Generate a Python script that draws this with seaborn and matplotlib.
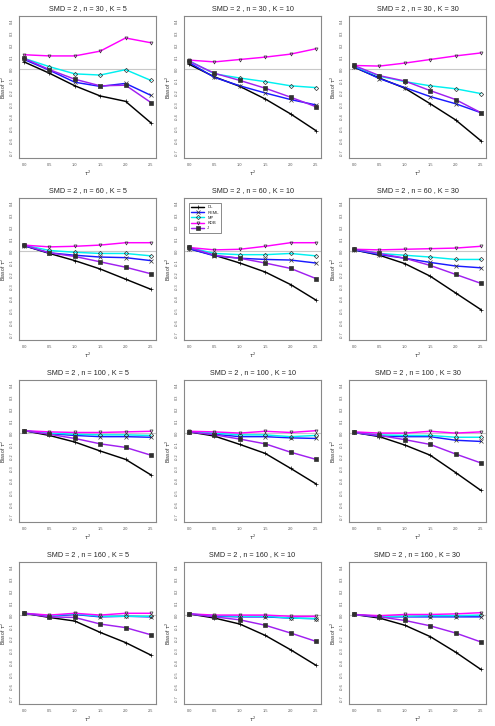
import numpy as np
import pandas as pd
import matplotlib
matplotlib.use("Agg")
import matplotlib.pyplot as plt
import seaborn as sns

sns.set_style("white")
plt.rcParams['font.family'] = ['Liberation Sans', 'DejaVu Sans']

tau2 = [0.0, 0.5, 1.0, 1.5, 2.0, 2.5]
n_vals = [30, 60, 100, 160]
K_vals = [5, 10, 30]
methods = ["DL", "REML", "MP", "KDB", "J"]

# rows: (n=30,K=5),(30,10),(30,30),(60,5),(60,10),(60,30),(100,5),(100,10),(100,30),(160,5),(160,10),(160,30)
DL = [
    [0.06, -0.035, -0.14, -0.225, -0.27, -0.45],
    [0.04, -0.065, -0.145, -0.25, -0.375, -0.515],
    [0.015, -0.075, -0.16, -0.29, -0.425, -0.60],
    [0.045, -0.02, -0.08, -0.15, -0.235, -0.32],
    [0.02, -0.035, -0.10, -0.175, -0.28, -0.41],
    [0.01, -0.035, -0.105, -0.21, -0.35, -0.49],
    [0.02, -0.02, -0.075, -0.15, -0.22, -0.35],
    [0.01, -0.025, -0.095, -0.17, -0.295, -0.425],
    [0.005, -0.03, -0.10, -0.185, -0.33, -0.48],
    [0.015, -0.02, -0.05, -0.145, -0.23, -0.335],
    [0.01, -0.025, -0.075, -0.17, -0.29, -0.42],
    [0.005, -0.025, -0.085, -0.18, -0.31, -0.455],
]
REML = [
    [0.08, -0.01, -0.11, -0.145, -0.12, -0.22],
    [0.055, -0.07, -0.14, -0.20, -0.255, -0.30],
    [0.02, -0.08, -0.155, -0.23, -0.29, -0.365],
    [0.045, -0.015, -0.035, -0.05, -0.055, -0.08],
    [0.02, -0.04, -0.06, -0.07, -0.075, -0.10],
    [0.01, -0.03, -0.06, -0.095, -0.125, -0.14],
    [0.02, -0.005, -0.02, -0.03, -0.03, -0.035],
    [0.01, -0.01, -0.03, -0.03, -0.04, -0.045],
    [0.005, -0.025, -0.03, -0.03, -0.06, -0.07],
    [0.015, -0.01, 0.005, -0.015, -0.01, -0.015],
    [0.01, -0.01, -0.015, -0.015, -0.025, -0.03],
    [0.005, -0.015, -0.015, -0.015, -0.015, -0.015],
]
MP = [
    [0.09, 0.02, -0.04, -0.05, -0.005, -0.095],
    [0.07, -0.04, -0.075, -0.105, -0.14, -0.155],
    [0.025, -0.06, -0.105, -0.14, -0.165, -0.205],
    [0.05, 0.005, -0.01, -0.02, -0.02, -0.04],
    [0.03, -0.02, -0.03, -0.03, -0.02, -0.04],
    [0.015, -0.02, -0.035, -0.05, -0.07, -0.07],
    [0.02, 0.0, -0.01, -0.015, -0.015, -0.02],
    [0.01, 0.0, -0.015, -0.015, -0.03, -0.02],
    [0.005, -0.015, -0.02, -0.02, -0.035, -0.035],
    [0.015, -0.005, 0.01, -0.01, -0.01, -0.01],
    [0.01, -0.005, -0.01, -0.01, -0.025, -0.03],
    [0.005, -0.01, -0.01, -0.005, -0.005, 0.0],
]
KDB = [
    [0.12, 0.11, 0.11, 0.15, 0.26, 0.22],
    [0.075, 0.06, 0.08, 0.10, 0.125, 0.17],
    [0.03, 0.025, 0.05, 0.08, 0.11, 0.135],
    [0.05, 0.035, 0.04, 0.05, 0.07, 0.07],
    [0.03, 0.01, 0.015, 0.04, 0.07, 0.07],
    [0.015, 0.01, 0.015, 0.02, 0.025, 0.04],
    [0.02, 0.01, 0.005, 0.005, 0.01, 0.015],
    [0.015, 0.01, 0.0, 0.015, 0.005, 0.02],
    [0.01, 0.0, 0.0, 0.015, 0.0, 0.01],
    [0.015, 0.0, 0.015, 0.0, 0.015, 0.015],
    [0.01, 0.0, 0.0, 0.0, -0.01, -0.01],
    [0.005, -0.005, 0.005, 0.005, 0.01, 0.02],
]
J = [
    [0.09, -0.005, -0.085, -0.14, -0.135, -0.28],
    [0.065, -0.035, -0.095, -0.16, -0.235, -0.315],
    [0.03, -0.055, -0.10, -0.18, -0.255, -0.365],
    [0.05, -0.015, -0.045, -0.09, -0.135, -0.19],
    [0.03, -0.035, -0.06, -0.10, -0.145, -0.23],
    [0.015, -0.02, -0.06, -0.12, -0.195, -0.27],
    [0.02, -0.01, -0.045, -0.09, -0.12, -0.185],
    [0.01, -0.015, -0.05, -0.09, -0.16, -0.22],
    [0.005, -0.02, -0.055, -0.095, -0.175, -0.25],
    [0.015, -0.015, -0.02, -0.075, -0.105, -0.165],
    [0.01, -0.015, -0.04, -0.085, -0.15, -0.22],
    [0.005, -0.015, -0.045, -0.09, -0.15, -0.225],
]
yticks = [0.4, 0.3, 0.2, 0.1, 0.0, -0.1, -0.2, -0.3, -0.4, -0.5, -0.6, -0.7]
xticks = [0.0, 0.5, 1.0, 1.5, 2.0, 2.5]

series = {"DL": DL, "REML": REML, "MP": MP, "KDB": KDB, "J": J}
colors = {"DL": "black", "REML": "#1a1aff", "MP": "#00f0f0", "KDB": "#ff00ff", "J": "#a020f0"}
markers = {"DL": "+", "REML": "x", "MP": "D", "KDB": "v", "J": "s"}
mfill = {"DL": "black", "REML": "#1a1aff", "MP": "none", "KDB": "none", "J": "#303030"}

rows = []
for m in methods:
    for p, (n, K) in enumerate([(n, K) for n in n_vals for K in K_vals]):
        for t, v in zip(tau2, series[m][p]):
            rows.append({"panel": p, "n": n, "K": K, "method": m, "tau2": t, "bias": v})
df = pd.DataFrame(rows)

W, H = 495, 726
fig = plt.figure(figsize=(W / 100, H / 100), dpi=100)
ax_w, ax_h = 137, 142
for p, (n, K) in enumerate([(n, K) for n in n_vals for K in K_vals]):
    r, c = divmod(p, 3)
    left = 19 + 165 * c
    top = 16 + 182 * r
    ax = fig.add_axes([left / W, 1 - (top + ax_h) / H, ax_w / W, ax_h / H])
    ax.axhline(0, color="#c8c8c8", lw=0.8, zorder=0)
    sub = df[df.panel == p]
    for m in methods:
        d = sub[sub.method == m]
        sns.lineplot(data=d, x="tau2", y="bias", ax=ax, color=colors[m],
                     marker=markers[m], markersize=2.2, markeredgewidth=0.5,
                     markerfacecolor=mfill[m], markeredgecolor="#333333" if m != "DL" else "black",
                     lw=1.05, label=m if p == 4 else None, legend=(p == 4))
    ax.set_xlim(-0.1, 2.6)
    ax.set_ylim(-0.744, 0.444)
    ax.set_xticks(xticks)
    ax.set_xticklabels([f"{x:.1f}" for x in xticks], fontsize=2.8)
    ax.set_yticks(yticks)
    ax.set_yticklabels([f"{y:.1f}" for y in yticks], fontsize=2.8, rotation=90, va="center")
    ax.tick_params(axis="both", length=2, width=0.5, pad=1.5, colors="#555555")
    ax.set_xlabel(r"$\tau^2$", fontsize=3.5, labelpad=1.5)
    ax.set_ylabel(r"Bias of $\tau^2$", fontsize=3.5, labelpad=1.5)
    ax.set_title(f"SMD = 2 , n = {n} , K = {K}", fontsize=5.2, pad=4)
    for s in ax.spines.values():
        s.set_color("#888888")
        s.set_linewidth(0.8)
    if p == 4:
        leg = ax.legend(loc="upper left", fontsize=3, frameon=True, fancybox=False,
                        edgecolor="#333333", handlelength=3, borderpad=0.6,
                        labelspacing=0.3, bbox_to_anchor=(0.02, 0.98))
        leg.get_frame().set_linewidth(0.5)

fig.savefig("out.png", dpi=100)
